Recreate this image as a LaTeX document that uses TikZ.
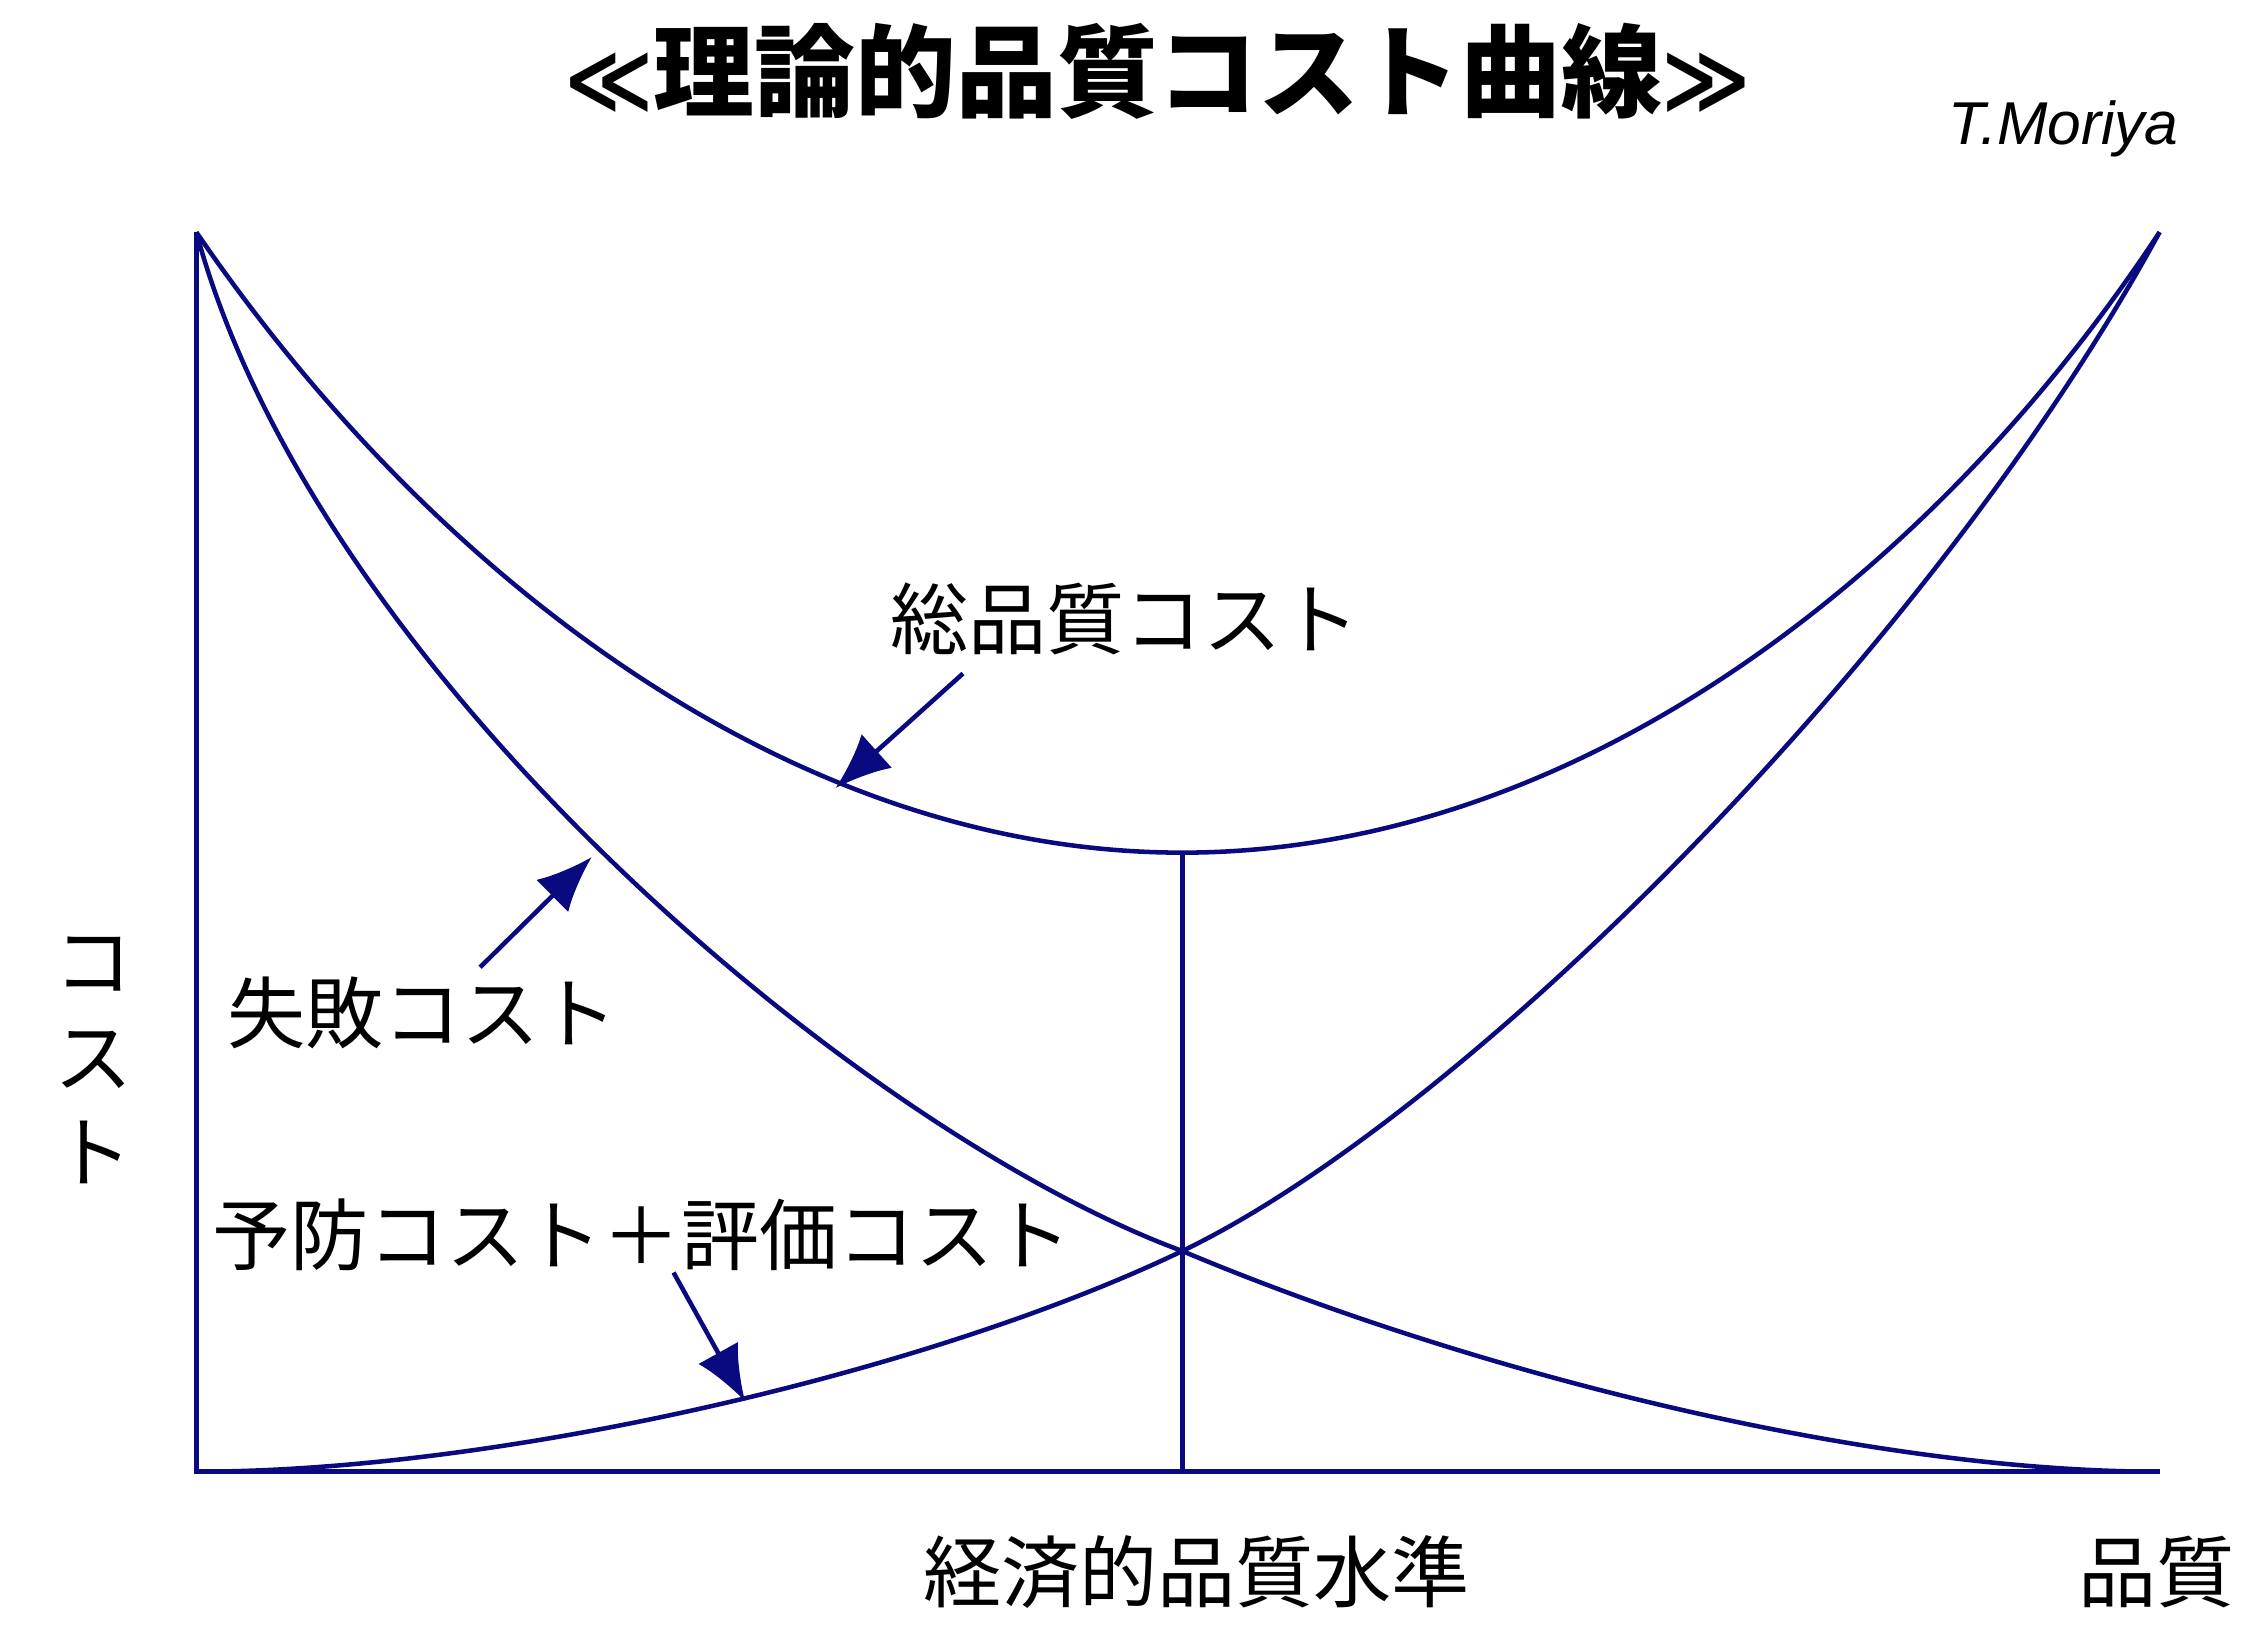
\documentclass[tikz,border=0pt]{standalone}
\usepackage{fontspec}
\newfontfamily\jp{Noto Sans CJK JP}
\newfontfamily\lat{Liberation Sans}
\newfontfamily\dv{DejaVu Sans}
\usetikzlibrary{arrows.meta}
\definecolor{nv}{RGB}{10,10,128}
\begin{document}
\begin{tikzpicture}[x=0.01cm,y=-0.01cm,
  crv/.style={nv,line width=0.9pt},
  arr/.style={nv,line width=0.9pt,-{Latex[length=11pt,width=9pt]}},
  lbl/.style={font=\jp\fontsize{15.5pt}{17pt}\selectfont,inner sep=0}]
\useasboundingbox (0,0) rectangle (1568,1137);
\node[font=\jp\bfseries\fontsize{20pt}{22pt}\selectfont,inner sep=0] (title) at (808,50) {{\dv\fontsize{17pt}{20pt}\selectfont ≪}理論的品質コスト曲線{\dv\fontsize{17pt}{20pt}\selectfont ≫}};
\node[font=\lat\itshape\fontsize{12pt}{14pt}\selectfont,inner sep=0] (auth) at (1440,90) {T.Moriya};
\coordinate (O) at (137,1027);
\coordinate (T) at (137,162);
\coordinate (E) at (1507,1027);
\coordinate (TR) at (1507,162);
\coordinate (M) at (825,595);
\coordinate (Mb) at (825,1027);
\coordinate (X) at (825,873);
\draw[crv] (T) -- (O) -- (E);
\draw[crv] (M) -- (Mb);
\draw[crv] (T) .. controls (300,400) and (550,595) .. (M) .. controls (1100,595) and (1350,400) .. (TR);
\draw[crv] (T) .. controls (220,470) and (600,790) .. (X) .. controls (1025,957) and (1300,1027) .. (E);
\draw[crv] (O) .. controls (350,1027) and (650,957) .. (X) .. controls (1025,777) and (1350,450) .. (TR);
\node[lbl] (tot) at (785,432) {総品質コスト};
\node[lbl] (fail) at (295,707) {失敗コスト};
\node[lbl] (prev) at (448,862) {予防コスト＋評価コスト};
\node[lbl] (xl) at (835,1097) {経済的品質水準};
\node[lbl] (ql) at (1505,1097) {品質};
\node[lbl,align=center] (yl) at (65,740) {コ\\[2pt]ス\\[2pt]ト};
\coordinate (a1s) at (672,470); \coordinate (a1e) at (583,550);
\coordinate (a2s) at (335,675); \coordinate (a2e) at (413,598);
\coordinate (a3s) at (470,888); \coordinate (a3e) at (520,978);
\draw[arr] (a1s) -- (a1e);
\draw[arr] (a2s) -- (a2e);
\draw[arr] (a3s) -- (a3e);
\end{tikzpicture}
\end{document}
